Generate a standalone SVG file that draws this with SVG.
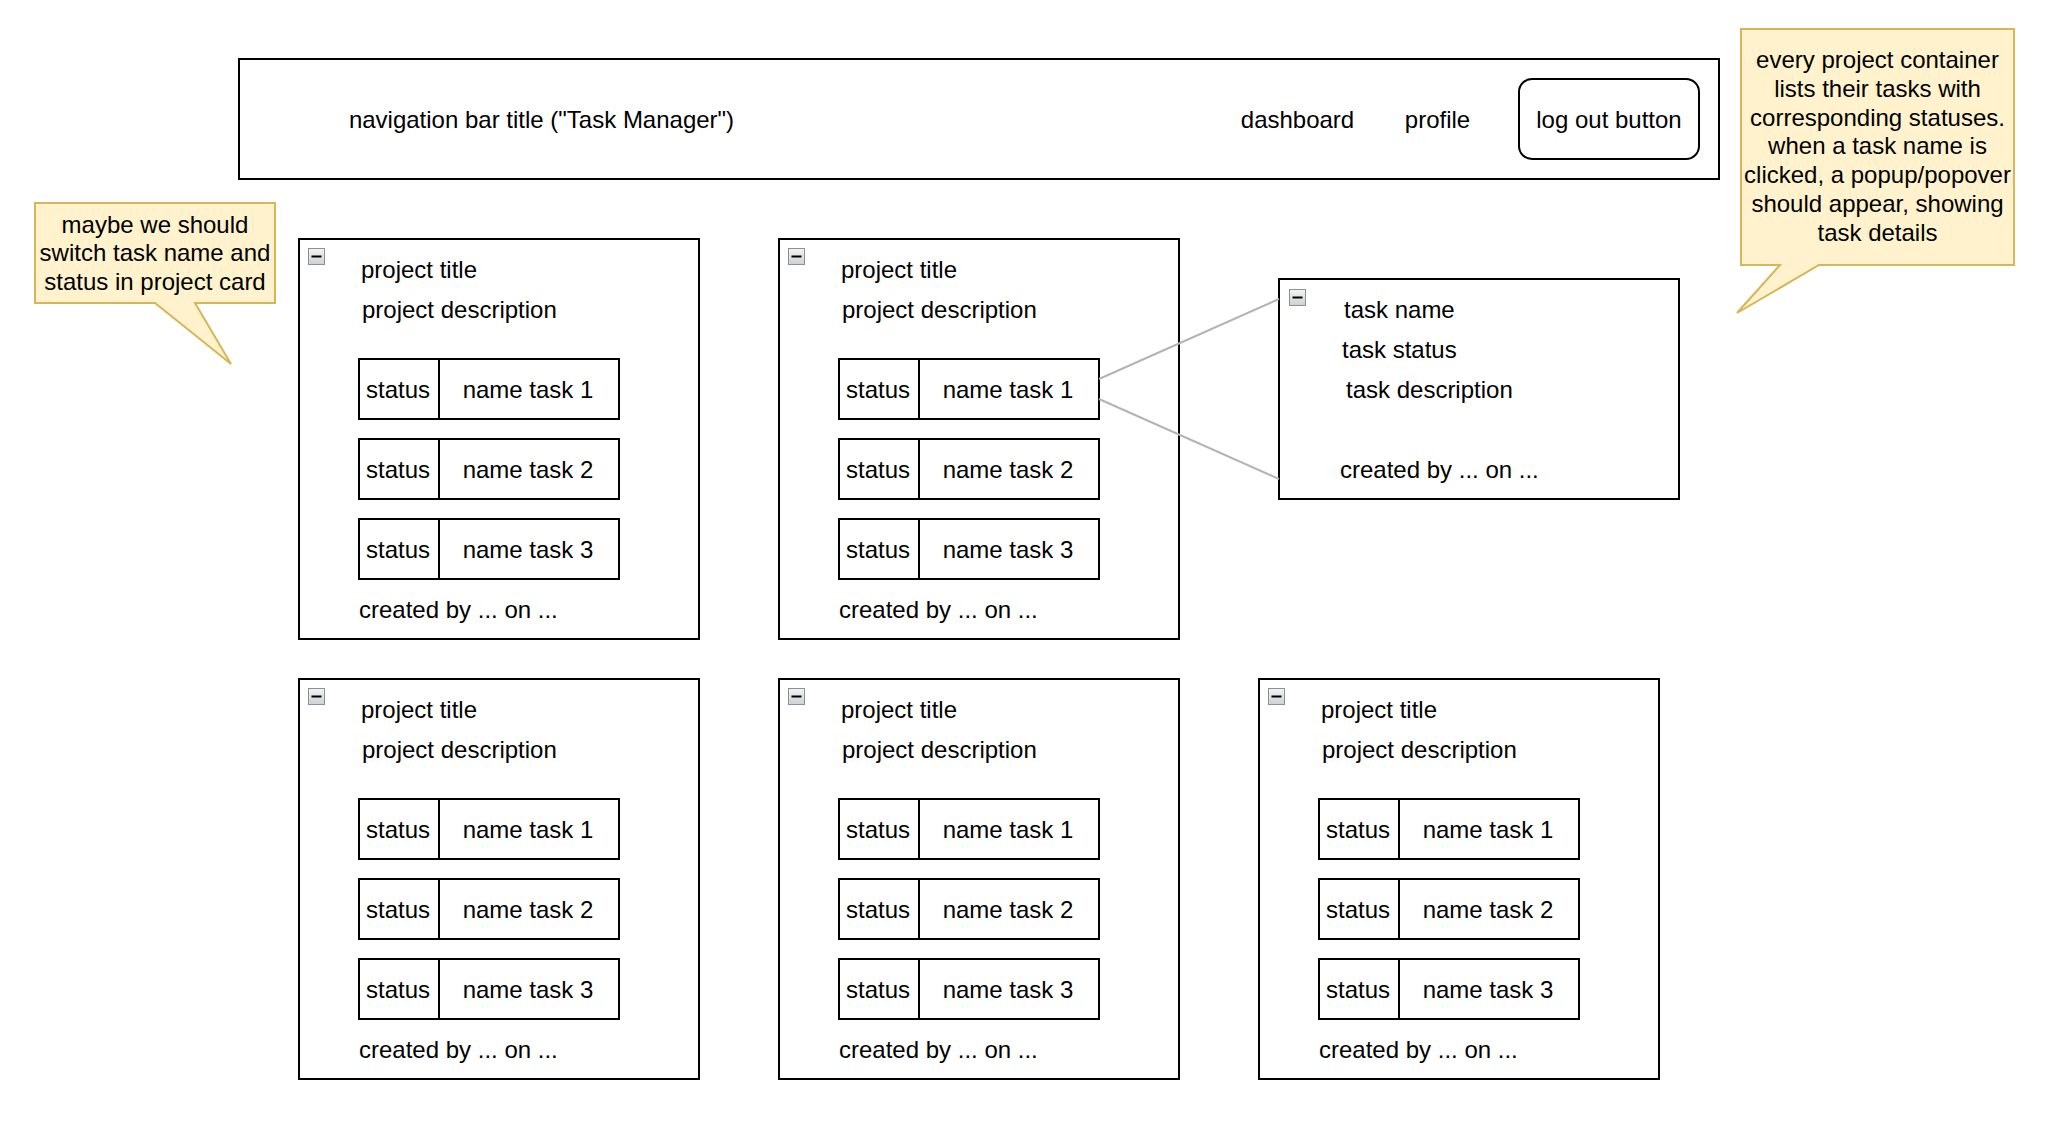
<svg xmlns="http://www.w3.org/2000/svg" width="2066" height="1134" viewBox="0 0 2066 1134">
<style>
text{font-family:"Liberation Sans",Arial,Helvetica,sans-serif;font-size:24px;fill:#000}
.c{text-anchor:middle}
.box{fill:#fff;stroke:#000;stroke-width:2}
.note{fill:#fff2cc;stroke:#d6b656;stroke-width:2;stroke-linejoin:miter}
.edge{fill:none;stroke:#b3b3b3;stroke-width:2}
.ico{fill:url(#icog);stroke:#8c8f9c;stroke-width:1}
.dash{stroke:#000;stroke-width:2}
</style>
<defs>
<linearGradient id="icog" x1="0" y1="0" x2="0" y2="1">
<stop offset="0" stop-color="#f4f4f4"/>
<stop offset="1" stop-color="#cfd0d4"/>
</linearGradient>
<g id="icon">
<rect class="ico" x="0.5" y="0.5" width="16" height="16"/>
<line class="dash" x1="3.5" y1="8.5" x2="13.5" y2="8.5"/>
</g>
<g id="card">
<rect class="box" x="0" y="0" width="400" height="400"/>
<use href="#icon" x="9" y="9"/>
<text x="62" y="39">project title</text>
<text x="63" y="79">project description</text>
<rect class="box" x="60" y="120" width="260" height="60"/>
<line class="dash" x1="140" y1="120" x2="140" y2="180"/>
<text class="c" x="99" y="159">status</text>
<text class="c" x="229" y="159">name task 1</text>
<rect class="box" x="60" y="200" width="260" height="60"/>
<line class="dash" x1="140" y1="200" x2="140" y2="260"/>
<text class="c" x="99" y="239">status</text>
<text class="c" x="229" y="239">name task 2</text>
<rect class="box" x="60" y="280" width="260" height="60"/>
<line class="dash" x1="140" y1="280" x2="140" y2="340"/>
<text class="c" x="99" y="319">status</text>
<text class="c" x="229" y="319">name task 3</text>
<text x="60" y="379">created by ... on ...</text>
</g>
</defs>
<rect width="2066" height="1134" fill="#fff"/>

<g id="navbar">
<rect class="box" x="239" y="59" width="1480" height="120"/>
<text class="c" x="541.5" y="127.5">navigation bar title ("Task Manager")</text>
<text class="c" x="1297.5" y="127.5">dashboard</text>
<text class="c" x="1437.5" y="127.5">profile</text>
</g>
<g id="logout">
<rect class="box" x="1519" y="79" width="180" height="80" rx="13" ry="13"/>
<text class="c" x="1609" y="127.5">log out button</text>
</g>

<g id="note1">
<path class="note" d="M35,203 H275 V303 H195 L231,364 L155,303 H35 Z"/>
<text class="c" x="155" y="232.5">maybe we should</text>
<text class="c" x="155" y="261.3">switch task name and</text>
<text class="c" x="155" y="290">status in project card</text>
</g>

<g id="note2">
<path class="note" d="M1741,29 H2014 V265 H1819 L1737,313 L1780,265 H1741 Z"/>
<text class="c" x="1877.5" y="68">every project container</text>
<text class="c" x="1877.5" y="96.8">lists their tasks with</text>
<text class="c" x="1877.5" y="125.6">corresponding statuses.</text>
<text class="c" x="1877.5" y="154.4">when a task name is</text>
<text class="c" x="1877.5" y="183.2">clicked, a popup/popover</text>
<text class="c" x="1877.5" y="212">should appear, showing</text>
<text class="c" x="1877.5" y="240.8">task details</text>
</g>

<g id="card1"><use href="#card" x="299" y="239"/></g>
<g id="card2"><use href="#card" x="779" y="239"/></g>
<g id="card3"><use href="#card" x="299" y="679"/></g>
<g id="card4"><use href="#card" x="779" y="679"/></g>
<g id="card5"><use href="#card" x="1259" y="679"/></g>

<g id="taskdetail">
<rect class="box" x="1279" y="279" width="400" height="220"/>
<use href="#icon" x="1289" y="289"/>
<text x="1344" y="318">task name</text>
<text x="1342" y="358">task status</text>
<text x="1346" y="398">task description</text>
<text x="1340" y="478">created by ... on ...</text>
</g>

<g id="connectors">
<line class="edge" x1="1099" y1="379" x2="1279" y2="299"/>
<line class="edge" x1="1099" y1="399" x2="1279" y2="479"/>
</g>
</svg>
